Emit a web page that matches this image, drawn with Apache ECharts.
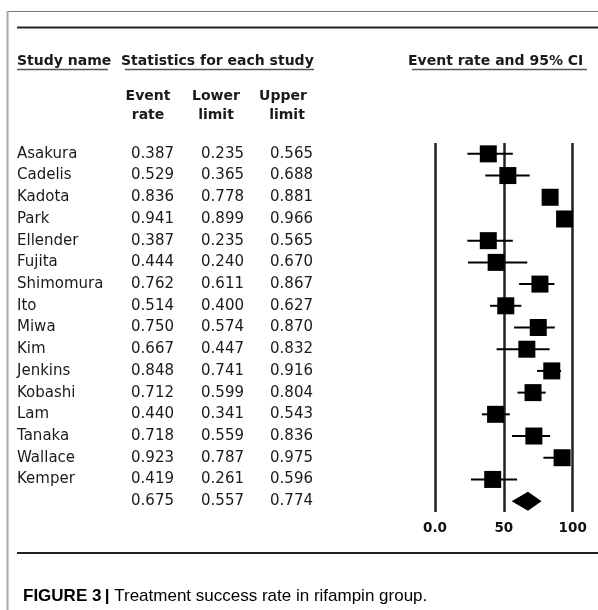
<!DOCTYPE html>
<html>
<head>
<meta charset="utf-8">
<script src="https://cdn.jsdelivr.net/npm/echarts@6/dist/echarts.min.js"></script>
<style>
html,body{margin:0;padding:0;background:#fff;}
#chart{width:598px;height:610px;}
</style>
</head>
<body>
<div id="chart"></div>
<script>
// ---- data ----
const studies = ['Asakura','Cadelis','Kadota','Park','Ellender','Fujita','Shimomura','Ito','Miwa','Kim','Jenkins','Kobashi','Lam','Tanaka','Wallace','Kemper'];
const eventRate  = [0.387,0.529,0.836,0.941,0.387,0.444,0.762,0.514,0.750,0.667,0.848,0.712,0.440,0.718,0.923,0.419];
const lowerLimit = [0.235,0.365,0.778,0.899,0.235,0.240,0.611,0.400,0.574,0.447,0.741,0.599,0.341,0.559,0.787,0.261];
const upperLimit = [0.565,0.688,0.881,0.966,0.565,0.670,0.867,0.627,0.870,0.832,0.916,0.804,0.543,0.836,0.975,0.596];
const summaryRow = [0.675,0.557,0.774]; // event, lower, upper
const xTicks = [0,50,100];
const xTickLabels = ['0.0','50','100'];

// ---- build ----
const categories = studies.concat(['Combined']);
const nStudies = studies.length;
const rowName = i => i < nStudies ? studies[i] : '';
const rowVals = i => i < nStudies ? [eventRate[i], lowerLimit[i], upperLimit[i]] : summaryRow;

const tableFont = '15px "DejaVu Sans"';
const headFont = 'bold 14px "DejaVu Sans"';
const ink = '#1a1a1a';

const chart = echarts.init(document.getElementById('chart'), null, {renderer:'canvas'});

const option = {
  animation: false,
  backgroundColor: '#fff',
  grid: {left: 435, right: 25.3, top: 143, bottom: 98, containLabel: false},
  xAxis: {
    type: 'value', min: xTicks[0], max: xTicks[xTicks.length-1], interval: xTicks[1]-xTicks[0],
    axisLine: {show: false}, axisTick: {show: false},
    splitLine: {show: true, lineStyle: {color: '#222', width: 2.5}},
    axisLabel: {
      margin: 9, color: '#111', fontFamily: 'DejaVu Sans', fontWeight: 'bold', fontSize: 13.5,
      formatter: v => xTickLabels[xTicks.indexOf(v)] ?? String(v)
    }
  },
  yAxis: {
    type: 'category', data: categories, inverse: true, boundaryGap: true,
    axisLine: {show: false}, axisTick: {show: false}, axisLabel: {show: false}, splitLine: {show: false}
  },
  series: [
    { // table text
      type: 'custom', clip: false, silent: true,
      data: categories.map((c, i) => [0, i]),
      encode: {x: 0, y: 1},
      renderItem: (params, api) => {
        const i = params.dataIndex;
        const y = api.coord([0, i])[1];
        const v = rowVals(i);
        const t = (txt, x, align) => ({type: 'text', style: {text: txt, x: x, y: y, align: align, verticalAlign: 'middle', font: tableFont, fill: ink}});
        return {type: 'group', children: [
          t(rowName(i), 17, 'left'),
          t(v[0].toFixed(3), 174, 'right'),
          t(v[1].toFixed(3), 244, 'right'),
          t(v[2].toFixed(3), 313, 'right')
        ]};
      },
      z: 5
    },
    { // CI whiskers
      type: 'custom', clip: false, silent: true,
      data: studies.map((s, i) => [lowerLimit[i]*100, upperLimit[i]*100, i]),
      encode: {x: [0, 1], y: 2},
      renderItem: (params, api) => {
        const p1 = api.coord([api.value(0), api.value(2)]);
        const p2 = api.coord([api.value(1), api.value(2)]);
        return {type: 'line', shape: {x1: p1[0], y1: p1[1], x2: p2[0], y2: p2[1]}, style: {stroke: '#000', lineWidth: 2}};
      },
      z: 3
    },
    { // point estimates
      type: 'scatter', silent: true,
      symbol: 'rect', symbolSize: 17,
      itemStyle: {color: '#000', opacity: 1},
      data: studies.map((s, i) => [eventRate[i]*100, i]),
      z: 4
    },
    { // summary diamond
      type: 'custom', clip: false, silent: true,
      data: [[summaryRow[1]*100, summaryRow[0]*100, summaryRow[2]*100, nStudies]],
      encode: {x: [0, 1, 2], y: 3},
      renderItem: (params, api) => {
        const r = api.value(3);
        const pl = api.coord([api.value(0), r]);
        const pe = api.coord([api.value(1), r]);
        const pu = api.coord([api.value(2), r]);
        const h = 9.5;
        return {type: 'polygon', shape: {points: [[pl[0], pl[1]], [pe[0], pe[1]-h], [pu[0], pu[1]], [pe[0], pe[1]+h]]}, style: {fill: '#000'}};
      },
      z: 4
    }
  ],
  graphic: [
    // frame lines
    {type: 'line', shape: {x1: 7, y1: 11.5, x2: 598, y2: 11.5}, style: {stroke: '#777', lineWidth: 1.2}},
    {type: 'line', shape: {x1: 7.5, y1: 11, x2: 7.5, y2: 610}, style: {stroke: '#aaa', lineWidth: 2}},
    {type: 'line', shape: {x1: 17, y1: 27.5, x2: 598, y2: 27.5}, style: {stroke: '#222', lineWidth: 2}},
    {type: 'line', shape: {x1: 17, y1: 553, x2: 598, y2: 553}, style: {stroke: '#222', lineWidth: 2}},
    // headers
    {type: 'text', style: {text: 'Study name', x: 17, y: 61, align: 'left', verticalAlign: 'middle', font: headFont, fill: ink}},
    {type: 'line', shape: {x1: 17, y1: 69.5, x2: 108, y2: 69.5}, style: {stroke: '#555', lineWidth: 1.5}},
    {type: 'text', style: {text: 'Statistics for each study', x: 121, y: 61, align: 'left', verticalAlign: 'middle', font: headFont, fill: ink}},
    {type: 'line', shape: {x1: 125, y1: 69.5, x2: 314, y2: 69.5}, style: {stroke: '#555', lineWidth: 1.5}},
    {type: 'text', style: {text: 'Event rate and 95% CI', x: 408, y: 61, align: 'left', verticalAlign: 'middle', font: headFont, fill: ink}},
    {type: 'line', shape: {x1: 412, y1: 69.5, x2: 587, y2: 69.5}, style: {stroke: '#555', lineWidth: 1.5}},
    {type: 'text', style: {text: 'Event', x: 148, y: 96, align: 'center', verticalAlign: 'middle', font: headFont, fill: ink}},
    {type: 'text', style: {text: 'rate', x: 148, y: 115, align: 'center', verticalAlign: 'middle', font: headFont, fill: ink}},
    {type: 'text', style: {text: 'Lower', x: 216, y: 96, align: 'center', verticalAlign: 'middle', font: headFont, fill: ink}},
    {type: 'text', style: {text: 'limit', x: 216, y: 115, align: 'center', verticalAlign: 'middle', font: headFont, fill: ink}},
    {type: 'text', style: {text: 'Upper', x: 283, y: 96, align: 'center', verticalAlign: 'middle', font: headFont, fill: ink}},
    {type: 'text', style: {text: 'limit', x: 287, y: 115, align: 'center', verticalAlign: 'middle', font: headFont, fill: ink}},
    // caption
    {type: 'text', style: {
      text: '{b|FIGURE 3} {s|| }{n|Treatment success rate in rifampin group.}',
      x: 23, y: 596, align: 'left', verticalAlign: 'middle',
      rich: {
        b: {fontFamily: 'Liberation Sans', fontWeight: 'bold', fontSize: 17, color: '#111'},
        s: {fontFamily: 'Liberation Sans', fontWeight: 'bold', fontSize: 17, color: '#333'},
        n: {fontFamily: 'Liberation Sans', fontSize: 17, color: '#333'}
      }
    }}
  ]
};
chart.setOption(option);
</script>
</body>
</html>
